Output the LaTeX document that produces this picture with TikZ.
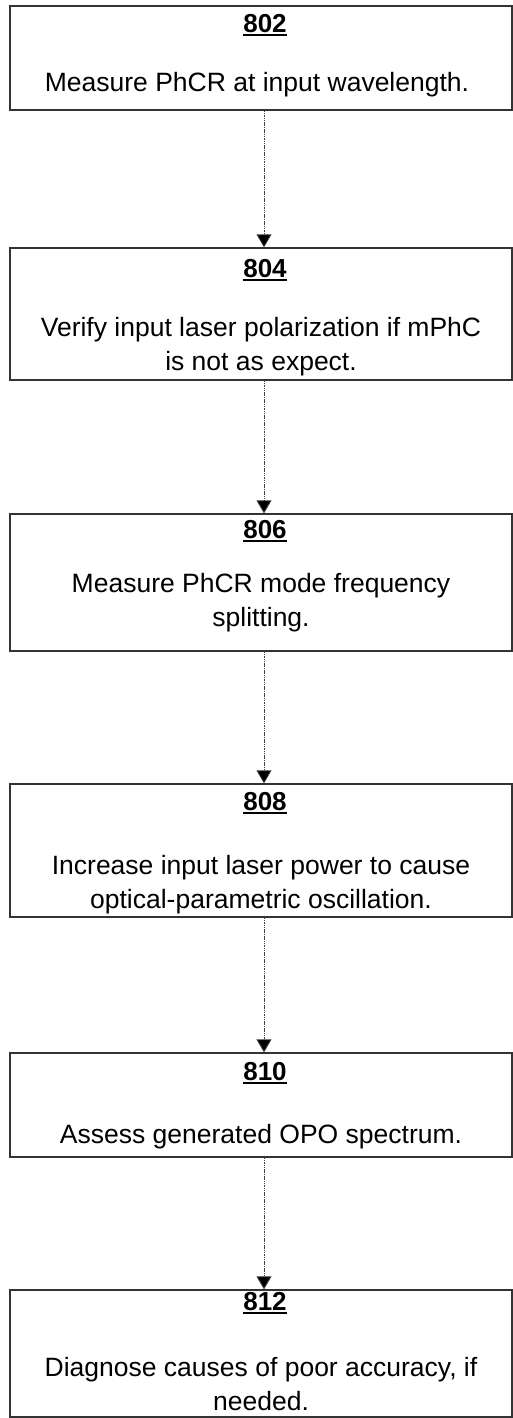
\documentclass[tikz,border=0pt]{standalone}
\usepackage{fontspec}
\setmainfont{Liberation Sans}
\usetikzlibrary{arrows.meta}

% underlined step number
\newcommand{\stepno}[1]{\setbox0\hbox{#1}\usebox0\llap{\rule[-3.5pt]{\wd0}{2pt}}}

\tikzset{
  stepbox/.style={draw=black!80, line width=1.3pt, minimum width=502pt, inner sep=0pt},
  steplabel/.style={anchor=base, inner sep=0pt, font=\fontsize{26}{34}\selectfont\bfseries},
  steptext/.style={anchor=base, inner sep=0pt, align=center, font=\fontsize{26.5}{34}\selectfont},
  flow/.style={draw=black!75, line width=0.8pt, dash pattern=on 1.5pt off 0.8pt,
    -{Triangle[width=15pt,length=13pt,fill=black]}}
}

\begin{document}
\begin{tikzpicture}[x=1pt,y=-1pt]
\useasboundingbox (0,0) rectangle (513,1418);
% boxes
\node[stepbox, minimum height=104pt] (b802) at (261,58){};
\node[stepbox, minimum height=132pt] (b804) at (261,314){};
\node[stepbox, minimum height=137pt] (b806) at (261,582.5){};
\node[stepbox, minimum height=133pt] (b808) at (261,850.5){};
\node[stepbox, minimum height=104pt] (b810) at (261,1105){};
\node[stepbox, minimum height=127pt] (b812) at (261,1353.5){};
% step numbers
\node[steplabel] (n802) at (265,33){\stepno{802}};
\node[steplabel] (n804) at (265,277){\stepno{804}};
\node[steplabel] (n806) at (265,538){\stepno{806}};
\node[steplabel] (n808) at (265,810){\stepno{808}};
\node[steplabel] (n810) at (265,1080){\stepno{810}};
\node[steplabel] (n812) at (265,1310){\stepno{812}};
% step texts (multi-line ones sit on their last line)
\node[steptext] (t802) at (257,92){Measure PhCR at input wavelength.};
\node[steptext] (t804) at (261,370){Verify input laser polarization if mPhC\\is not as expect.};
\node[steptext] (t806) at (261,626){Measure PhCR mode frequency\\splitting.};
\node[steptext] (t808) at (261,908){Increase input laser power to cause\\optical-parametric oscillation.};
\node[steptext] (t810) at (261,1143){Assess generated OPO spectrum.};
\node[steptext] (t812) at (261,1410){Diagnose causes of poor accuracy, if\\needed.};
% arrows
\draw[flow] ([xshift=3pt]b802.south) -- ([xshift=3pt]b804.north);
\draw[flow] ([xshift=3pt]b804.south) -- ([xshift=3pt]b806.north);
\draw[flow] ([xshift=3pt]b806.south) -- ([xshift=3pt]b808.north);
\draw[flow] ([xshift=3pt]b808.south) -- ([xshift=3pt]b810.north);
\draw[flow] ([xshift=3pt]b810.south) -- ([xshift=3pt]b812.north);
\end{tikzpicture}
\end{document}
